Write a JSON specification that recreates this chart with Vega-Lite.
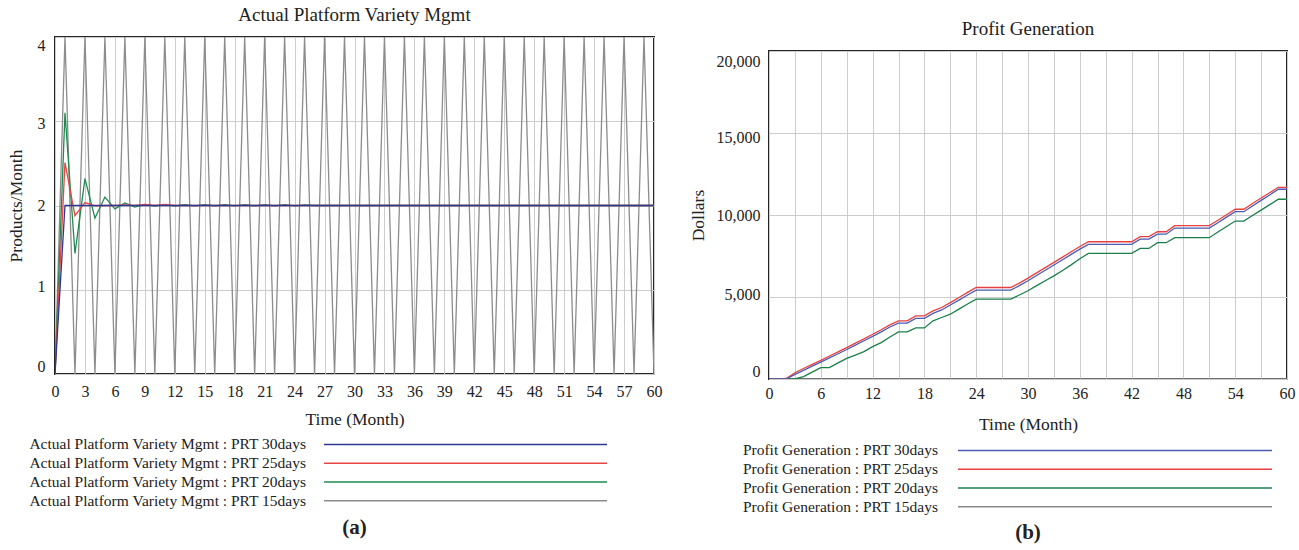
{
  "$schema": "https://vega.github.io/schema/vega-lite/v6.json",
  "background": "white",
  "padding": {"left": 6, "top": 5, "right": 5, "bottom": 5},
  "config": {
    "font": "Liberation Serif",
    "view": {"stroke": "#262626", "strokeWidth": 2},
    "axis": {
      "domain": false, "ticks": false, "grid": true, "gridColor": "#cccccc", "gridWidth": 1,
      "labelFont": "Liberation Serif", "labelFontSize": 16, "labelColor": "#222222",
      "titleFont": "Liberation Serif", "titleFontSize": 17.5, "titleFontWeight": "normal", "titleColor": "#222222"
    },
    "title": {"font": "Liberation Serif", "fontSize": 19, "fontWeight": "normal", "color": "#222222", "offset": 12, "frame": "group"},
    "text": {"font": "Liberation Serif"}
  },
  "datasets": {
    "a": [
      {"t":0,"run":"PRT 15days","v":0},{"t":1,"run":"PRT 15days","v":4},{"t":2,"run":"PRT 15days","v":0},{"t":3,"run":"PRT 15days","v":4},{"t":4,"run":"PRT 15days","v":0},{"t":5,"run":"PRT 15days","v":4},{"t":6,"run":"PRT 15days","v":0},{"t":7,"run":"PRT 15days","v":4},{"t":8,"run":"PRT 15days","v":0},{"t":9,"run":"PRT 15days","v":4},
      {"t":10,"run":"PRT 15days","v":0},{"t":11,"run":"PRT 15days","v":4},{"t":12,"run":"PRT 15days","v":0},{"t":13,"run":"PRT 15days","v":4},{"t":14,"run":"PRT 15days","v":0},{"t":15,"run":"PRT 15days","v":4},{"t":16,"run":"PRT 15days","v":0},{"t":17,"run":"PRT 15days","v":4},{"t":18,"run":"PRT 15days","v":0},{"t":19,"run":"PRT 15days","v":4},
      {"t":20,"run":"PRT 15days","v":0},{"t":21,"run":"PRT 15days","v":4},{"t":22,"run":"PRT 15days","v":0},{"t":23,"run":"PRT 15days","v":4},{"t":24,"run":"PRT 15days","v":0},{"t":25,"run":"PRT 15days","v":4},{"t":26,"run":"PRT 15days","v":0},{"t":27,"run":"PRT 15days","v":4},{"t":28,"run":"PRT 15days","v":0},{"t":29,"run":"PRT 15days","v":4},
      {"t":30,"run":"PRT 15days","v":0},{"t":31,"run":"PRT 15days","v":4},{"t":32,"run":"PRT 15days","v":0},{"t":33,"run":"PRT 15days","v":4},{"t":34,"run":"PRT 15days","v":0},{"t":35,"run":"PRT 15days","v":4},{"t":36,"run":"PRT 15days","v":0},{"t":37,"run":"PRT 15days","v":4},{"t":38,"run":"PRT 15days","v":0},{"t":39,"run":"PRT 15days","v":4},
      {"t":40,"run":"PRT 15days","v":0},{"t":41,"run":"PRT 15days","v":4},{"t":42,"run":"PRT 15days","v":0},{"t":43,"run":"PRT 15days","v":4},{"t":44,"run":"PRT 15days","v":0},{"t":45,"run":"PRT 15days","v":4},{"t":46,"run":"PRT 15days","v":0},{"t":47,"run":"PRT 15days","v":4},{"t":48,"run":"PRT 15days","v":0},{"t":49,"run":"PRT 15days","v":4},
      {"t":50,"run":"PRT 15days","v":0},{"t":51,"run":"PRT 15days","v":4},{"t":52,"run":"PRT 15days","v":0},{"t":53,"run":"PRT 15days","v":4},{"t":54,"run":"PRT 15days","v":0},{"t":55,"run":"PRT 15days","v":4},{"t":56,"run":"PRT 15days","v":0},{"t":57,"run":"PRT 15days","v":4},{"t":58,"run":"PRT 15days","v":0},{"t":59,"run":"PRT 15days","v":4},
      {"t":60,"run":"PRT 15days","v":0},
      {"t":0,"run":"PRT 20days","v":0},{"t":1,"run":"PRT 20days","v":3.1},{"t":2,"run":"PRT 20days","v":1.43},{"t":3,"run":"PRT 20days","v":2.32},{"t":4,"run":"PRT 20days","v":1.85},{"t":5,"run":"PRT 20days","v":2.1},{"t":6,"run":"PRT 20days","v":1.96},{"t":7,"run":"PRT 20days","v":2.03},{"t":8,"run":"PRT 20days","v":1.98},{"t":9,"run":"PRT 20days","v":2.012},
      {"t":10,"run":"PRT 20days","v":1.992},{"t":11,"run":"PRT 20days","v":2.01},{"t":12,"run":"PRT 20days","v":1.994},{"t":13,"run":"PRT 20days","v":2.01},{"t":14,"run":"PRT 20days","v":1.995},{"t":15,"run":"PRT 20days","v":2.01},{"t":16,"run":"PRT 20days","v":1.995},{"t":17,"run":"PRT 20days","v":2.01},{"t":18,"run":"PRT 20days","v":1.995},{"t":19,"run":"PRT 20days","v":2.01},
      {"t":20,"run":"PRT 20days","v":1.995},{"t":21,"run":"PRT 20days","v":2.01},{"t":22,"run":"PRT 20days","v":1.995},{"t":23,"run":"PRT 20days","v":2.01},{"t":24,"run":"PRT 20days","v":1.995},{"t":25,"run":"PRT 20days","v":2.008},{"t":26,"run":"PRT 20days","v":2.0},{"t":60,"run":"PRT 20days","v":2.0},
      {"t":0,"run":"PRT 25days","v":0},{"t":1,"run":"PRT 25days","v":2.51},{"t":2,"run":"PRT 25days","v":1.88},{"t":3,"run":"PRT 25days","v":2.035},{"t":4,"run":"PRT 25days","v":1.995},{"t":5,"run":"PRT 25days","v":2.0},{"t":6,"run":"PRT 25days","v":2.0},{"t":7,"run":"PRT 25days","v":2.006},{"t":8,"run":"PRT 25days","v":2.0},{"t":9,"run":"PRT 25days","v":2.012},{"t":10,"run":"PRT 25days","v":2.0},{"t":11,"run":"PRT 25days","v":2.012},{"t":12,"run":"PRT 25days","v":2.0},{"t":60,"run":"PRT 25days","v":2.0},
      {"t":0,"run":"PRT 30days","v":0},{"t":1,"run":"PRT 30days","v":2.0},{"t":60,"run":"PRT 30days","v":2.0}
    ],
    "b": [
      {"t":0,"series":"PRT 15days","v":0},{"t":60,"series":"PRT 15days","v":0},
      {"t":0,"series":"PRT 20days","v":0},{"t":1,"series":"PRT 20days","v":0},{"t":2,"series":"PRT 20days","v":0},{"t":3,"series":"PRT 20days","v":0},{"t":4,"series":"PRT 20days","v":150},{"t":5,"series":"PRT 20days","v":420},{"t":6,"series":"PRT 20days","v":690},{"t":7,"series":"PRT 20days","v":690},{"t":8,"series":"PRT 20days","v":980},{"t":9,"series":"PRT 20days","v":1260},
      {"t":10,"series":"PRT 20days","v":1460},{"t":11,"series":"PRT 20days","v":1670},{"t":12,"series":"PRT 20days","v":1975},{"t":13,"series":"PRT 20days","v":2220},{"t":14,"series":"PRT 20days","v":2560},{"t":15,"series":"PRT 20days","v":2870},{"t":16,"series":"PRT 20days","v":2870},{"t":17,"series":"PRT 20days","v":3115},{"t":18,"series":"PRT 20days","v":3115},{"t":19,"series":"PRT 20days","v":3545},
      {"t":20,"series":"PRT 20days","v":3750},{"t":21,"series":"PRT 20days","v":3950},{"t":22,"series":"PRT 20days","v":4260},{"t":23,"series":"PRT 20days","v":4570},{"t":24,"series":"PRT 20days","v":4870},{"t":25,"series":"PRT 20days","v":4870},{"t":26,"series":"PRT 20days","v":4870},{"t":27,"series":"PRT 20days","v":4870},{"t":28,"series":"PRT 20days","v":4870},{"t":29,"series":"PRT 20days","v":5120},
      {"t":30,"series":"PRT 20days","v":5380},{"t":31,"series":"PRT 20days","v":5690},{"t":32,"series":"PRT 20days","v":5990},{"t":33,"series":"PRT 20days","v":6290},{"t":34,"series":"PRT 20days","v":6620},{"t":35,"series":"PRT 20days","v":6960},{"t":36,"series":"PRT 20days","v":7330},{"t":37,"series":"PRT 20days","v":7660},{"t":38,"series":"PRT 20days","v":7660},{"t":39,"series":"PRT 20days","v":7660},
      {"t":40,"series":"PRT 20days","v":7660},{"t":41,"series":"PRT 20days","v":7660},{"t":42,"series":"PRT 20days","v":7660},{"t":43,"series":"PRT 20days","v":7960},{"t":44,"series":"PRT 20days","v":7960},{"t":45,"series":"PRT 20days","v":8310},{"t":46,"series":"PRT 20days","v":8310},{"t":47,"series":"PRT 20days","v":8615},{"t":48,"series":"PRT 20days","v":8615},{"t":49,"series":"PRT 20days","v":8615},
      {"t":50,"series":"PRT 20days","v":8615},{"t":51,"series":"PRT 20days","v":8615},{"t":52,"series":"PRT 20days","v":8960},{"t":53,"series":"PRT 20days","v":9300},{"t":54,"series":"PRT 20days","v":9630},{"t":55,"series":"PRT 20days","v":9630},{"t":56,"series":"PRT 20days","v":9970},{"t":57,"series":"PRT 20days","v":10300},{"t":58,"series":"PRT 20days","v":10630},{"t":59,"series":"PRT 20days","v":10960},
      {"t":60,"series":"PRT 20days","v":10960},
      {"t":0,"series":"PRT 25days","v":0},{"t":1,"series":"PRT 25days","v":0},{"t":2,"series":"PRT 25days","v":30},{"t":3,"series":"PRT 25days","v":380},{"t":4,"series":"PRT 25days","v":640},{"t":5,"series":"PRT 25days","v":890},{"t":6,"series":"PRT 25days","v":1140},{"t":7,"series":"PRT 25days","v":1400},{"t":8,"series":"PRT 25days","v":1650},{"t":9,"series":"PRT 25days","v":1915},
      {"t":10,"series":"PRT 25days","v":2190},{"t":11,"series":"PRT 25days","v":2450},{"t":12,"series":"PRT 25days","v":2730},{"t":13,"series":"PRT 25days","v":3000},{"t":14,"series":"PRT 25days","v":3300},{"t":15,"series":"PRT 25days","v":3545},{"t":16,"series":"PRT 25days","v":3545},{"t":17,"series":"PRT 25days","v":3850},{"t":18,"series":"PRT 25days","v":3850},{"t":19,"series":"PRT 25days","v":4150},
      {"t":20,"series":"PRT 25days","v":4360},{"t":21,"series":"PRT 25days","v":4660},{"t":22,"series":"PRT 25days","v":4970},{"t":23,"series":"PRT 25days","v":5280},{"t":24,"series":"PRT 25days","v":5580},{"t":25,"series":"PRT 25days","v":5580},{"t":26,"series":"PRT 25days","v":5580},{"t":27,"series":"PRT 25days","v":5580},{"t":28,"series":"PRT 25days","v":5580},{"t":29,"series":"PRT 25days","v":5850},
      {"t":30,"series":"PRT 25days","v":6150},{"t":31,"series":"PRT 25days","v":6470},{"t":32,"series":"PRT 25days","v":6790},{"t":33,"series":"PRT 25days","v":7110},{"t":34,"series":"PRT 25days","v":7430},{"t":35,"series":"PRT 25days","v":7760},{"t":36,"series":"PRT 25days","v":8080},{"t":37,"series":"PRT 25days","v":8370},{"t":38,"series":"PRT 25days","v":8370},{"t":39,"series":"PRT 25days","v":8370},
      {"t":40,"series":"PRT 25days","v":8370},{"t":41,"series":"PRT 25days","v":8370},{"t":42,"series":"PRT 25days","v":8370},{"t":43,"series":"PRT 25days","v":8680},{"t":44,"series":"PRT 25days","v":8680},{"t":45,"series":"PRT 25days","v":8980},{"t":46,"series":"PRT 25days","v":8980},{"t":47,"series":"PRT 25days","v":9350},{"t":48,"series":"PRT 25days","v":9350},{"t":49,"series":"PRT 25days","v":9350},
      {"t":50,"series":"PRT 25days","v":9350},{"t":51,"series":"PRT 25days","v":9350},{"t":52,"series":"PRT 25days","v":9680},{"t":53,"series":"PRT 25days","v":10020},{"t":54,"series":"PRT 25days","v":10350},{"t":55,"series":"PRT 25days","v":10350},{"t":56,"series":"PRT 25days","v":10700},{"t":57,"series":"PRT 25days","v":11040},{"t":58,"series":"PRT 25days","v":11360},{"t":59,"series":"PRT 25days","v":11690},
      {"t":60,"series":"PRT 25days","v":11690},
      {"t":0,"series":"PRT 30days","v":0},{"t":1,"series":"PRT 30days","v":0},{"t":2,"series":"PRT 30days","v":0},{"t":3,"series":"PRT 30days","v":280},{"t":4,"series":"PRT 30days","v":530},{"t":5,"series":"PRT 30days","v":780},{"t":6,"series":"PRT 30days","v":1030},{"t":7,"series":"PRT 30days","v":1290},{"t":8,"series":"PRT 30days","v":1540},{"t":9,"series":"PRT 30days","v":1800},
      {"t":10,"series":"PRT 30days","v":2070},{"t":11,"series":"PRT 30days","v":2330},{"t":12,"series":"PRT 30days","v":2600},{"t":13,"series":"PRT 30days","v":2870},{"t":14,"series":"PRT 30days","v":3170},{"t":15,"series":"PRT 30days","v":3410},{"t":16,"series":"PRT 30days","v":3410},{"t":17,"series":"PRT 30days","v":3700},{"t":18,"series":"PRT 30days","v":3700},{"t":19,"series":"PRT 30days","v":4000},
      {"t":20,"series":"PRT 30days","v":4210},{"t":21,"series":"PRT 30days","v":4510},{"t":22,"series":"PRT 30days","v":4810},{"t":23,"series":"PRT 30days","v":5120},{"t":24,"series":"PRT 30days","v":5420},{"t":25,"series":"PRT 30days","v":5420},{"t":26,"series":"PRT 30days","v":5420},{"t":27,"series":"PRT 30days","v":5420},{"t":28,"series":"PRT 30days","v":5420},{"t":29,"series":"PRT 30days","v":5690},
      {"t":30,"series":"PRT 30days","v":5990},{"t":31,"series":"PRT 30days","v":6310},{"t":32,"series":"PRT 30days","v":6630},{"t":33,"series":"PRT 30days","v":6950},{"t":34,"series":"PRT 30days","v":7270},{"t":35,"series":"PRT 30days","v":7600},{"t":36,"series":"PRT 30days","v":7920},{"t":37,"series":"PRT 30days","v":8210},{"t":38,"series":"PRT 30days","v":8210},{"t":39,"series":"PRT 30days","v":8210},
      {"t":40,"series":"PRT 30days","v":8210},{"t":41,"series":"PRT 30days","v":8210},{"t":42,"series":"PRT 30days","v":8210},{"t":43,"series":"PRT 30days","v":8530},{"t":44,"series":"PRT 30days","v":8530},{"t":45,"series":"PRT 30days","v":8830},{"t":46,"series":"PRT 30days","v":8830},{"t":47,"series":"PRT 30days","v":9205},{"t":48,"series":"PRT 30days","v":9205},{"t":49,"series":"PRT 30days","v":9205},
      {"t":50,"series":"PRT 30days","v":9205},{"t":51,"series":"PRT 30days","v":9205},{"t":52,"series":"PRT 30days","v":9530},{"t":53,"series":"PRT 30days","v":9870},{"t":54,"series":"PRT 30days","v":10200},{"t":55,"series":"PRT 30days","v":10200},{"t":56,"series":"PRT 30days","v":10550},{"t":57,"series":"PRT 30days","v":10890},{"t":58,"series":"PRT 30days","v":11220},{"t":59,"series":"PRT 30days","v":11570},
      {"t":60,"series":"PRT 30days","v":11570}
    ],
    "la": [
      {"run":"PRT 30days","label":"Actual Platform Variety Mgmt : PRT 30days"},
      {"run":"PRT 25days","label":"Actual Platform Variety Mgmt : PRT 25days"},
      {"run":"PRT 20days","label":"Actual Platform Variety Mgmt : PRT 20days"},
      {"run":"PRT 15days","label":"Actual Platform Variety Mgmt : PRT 15days"}
    ],
    "lb": [
      {"series":"PRT 30days","label":"Profit Generation : PRT 30days"},
      {"series":"PRT 25days","label":"Profit Generation : PRT 25days"},
      {"series":"PRT 20days","label":"Profit Generation : PRT 20days"},
      {"series":"PRT 15days","label":"Profit Generation : PRT 15days"}
    ],
    "none": []
  },
  "spacing": 25,
  "resolve": {"scale": {"color": "independent"}},
  "hconcat": [
    {
      "spacing": 6,
      "vconcat": [
        {
          "width": 599, "height": 337,
          "title": {"text": "Actual Platform Variety Mgmt"},
          "data": {"name": "a"},
          "mark": {"type": "line", "strokeWidth": 1.3, "clip": true},
          "encoding": {
            "x": {"field": "t", "type": "quantitative", "scale": {"domain": [0, 60], "nice": false},
                  "axis": {"values": [0,3,6,9,12,15,18,21,24,27,30,33,36,39,42,45,48,51,54,57,60], "title": "Time (Month)", "labelPadding": 9, "titlePadding": 11, "labelFlush": false}},
            "y": {"field": "v", "type": "quantitative", "scale": {"domain": [0, 4], "nice": false},
                  "axis": {"values": [0,1,2,3,4], "format": "d", "title": "Products/Month", "labelPadding": 10, "titlePadding": 12,
                           "labelOffset": {"condition": [{"test": "datum.value == 0", "value": -8}, {"test": "datum.value == 1", "value": -3}, {"test": "datum.value == 3", "value": 2}, {"test": "datum.value == 4", "value": 8}], "value": 0}}},
            "color": {"field": "run", "type": "nominal", "legend": null,
                      "scale": {"domain": ["PRT 30days","PRT 25days","PRT 20days","PRT 15days"], "range": ["#2c3894","#e84444","#1e8a50","#8c8c8c"]}}
          }
        },
        {
          "width": 599, "height": 75,
          "view": {"stroke": null},
          "data": {"name": "la"},
          "title": {"text": "(a)", "orient": "bottom", "fontSize": 21, "fontWeight": "bold", "offset": 7, "frame": "group"},
          "encoding": {
            "y": {"field": "run", "type": "nominal", "sort": null, "axis": null,
                  "scale": {"domain": ["PRT 30days","PRT 25days","PRT 20days","PRT 15days"]}}
          },
          "layer": [
            {
              "mark": {"type": "text", "align": "right", "baseline": "middle", "fontSize": 15.5, "color": "#222222"},
              "encoding": {
                "x": {"datum": 251, "type": "quantitative", "scale": {"domain": [0, 599], "nice": false}, "axis": null},
                "text": {"field": "label"}
              }
            },
            {
              "mark": {"type": "rule", "strokeWidth": 1.5},
              "encoding": {
                "x": {"datum": 269, "type": "quantitative"},
                "x2": {"datum": 552},
                "color": {"field": "run", "type": "nominal", "legend": null,
                          "scale": {"domain": ["PRT 30days","PRT 25days","PRT 20days","PRT 15days"], "range": ["#6f82c8","#f07a7a","#2e8f5c","#7a7a7a"]}}
              }
            }
          ]
        }
      ]
    },
    {
      "spacing": 7,
      "vconcat": [
        {
          "width": 518, "height": 6,
          "view": {"stroke": null},
          "title": {"text": "Profit Generation", "offset": -2},
          "data": {"name": "none"},
          "mark": "point"
        },
        {
          "width": 518, "height": 328,
          "data": {"name": "b"},
          "mark": {"type": "line", "strokeWidth": 1.3, "clip": true},
          "encoding": {
            "x": {"field": "t", "type": "quantitative", "scale": {"domain": [0, 60], "nice": false},
                  "axis": {"values": [0,3,6,9,12,15,18,21,24,27,30,33,36,39,42,45,48,51,54,57,60], "labelExpr": "datum.value % 6 == 0 ? datum.label : ''", "title": "Time (Month)", "labelPadding": 6, "titlePadding": 14, "labelFlush": false}},
            "y": {"field": "v", "type": "quantitative", "scale": {"domain": [0, 20000], "nice": false},
                  "axis": {"values": [0,5000,10000,15000,20000], "format": ",d", "title": "Dollars", "labelPadding": 9, "titlePadding": 9,
                           "labelOffset": {"condition": [{"test": "datum.value == 0", "value": -8}, {"test": "datum.value == 5000", "value": -3}, {"test": "datum.value == 15000", "value": 4}, {"test": "datum.value == 20000", "value": 10}], "value": 0}}},
            "color": {"field": "series", "type": "nominal", "legend": null,
                      "scale": {"domain": ["PRT 30days","PRT 25days","PRT 20days","PRT 15days"], "range": ["#4a5cb4","#e84040","#1a7f4a","#888888"]}}
          }
        },
        {
          "width": 518, "height": 75,
          "view": {"stroke": null},
          "data": {"name": "lb"},
          "title": {"text": "(b)", "orient": "bottom", "fontSize": 21, "fontWeight": "bold", "offset": 6, "frame": "group"},
          "encoding": {
            "y": {"field": "series", "type": "nominal", "sort": null, "axis": null,
                  "scale": {"domain": ["PRT 30days","PRT 25days","PRT 20days","PRT 15days"]}}
          },
          "layer": [
            {
              "mark": {"type": "text", "align": "right", "baseline": "middle", "fontSize": 15.5, "color": "#222222"},
              "encoding": {
                "x": {"datum": 169, "type": "quantitative", "scale": {"domain": [0, 518], "nice": false}, "axis": null},
                "text": {"field": "label"}
              }
            },
            {
              "mark": {"type": "rule", "strokeWidth": 1.5},
              "encoding": {
                "x": {"datum": 189, "type": "quantitative"},
                "x2": {"datum": 503},
                "color": {"field": "series", "type": "nominal", "legend": null,
                          "scale": {"domain": ["PRT 30days","PRT 25days","PRT 20days","PRT 15days"], "range": ["#8e9fd2","#f06a6a","#1a7f4a","#888888"]}}
              }
            }
          ]
        }
      ]
    }
  ]
}
